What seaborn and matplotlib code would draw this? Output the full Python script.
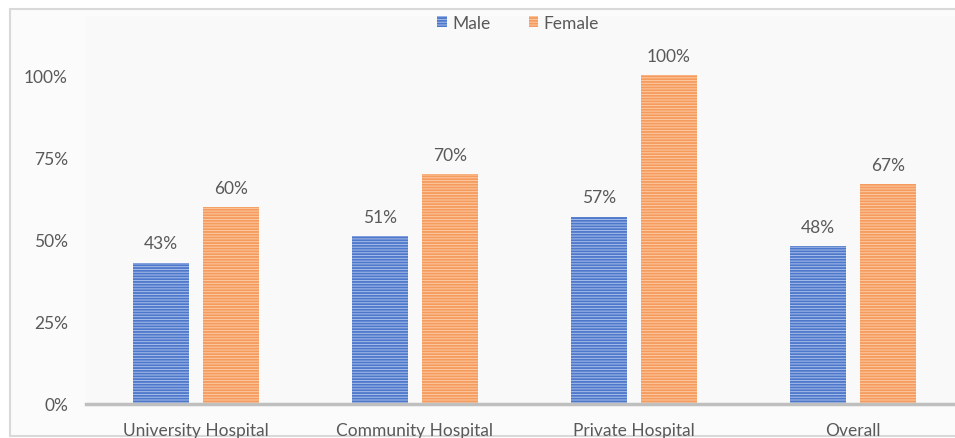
import matplotlib
matplotlib.use("Agg")
import matplotlib.pyplot as plt
from matplotlib.patches import Patch, Rectangle
import seaborn as sns
import pandas as pd

categories = ["University Hospital", "Community Hospital", "Private Hospital", "Overall"]
male = [0.43, 0.51, 0.57, 0.48]
female = [0.60, 0.70, 1.00, 0.67]
yticks = [0, 0.25, 0.50, 0.75, 1.00]
ytick_labels = ["0%", "25%", "50%", "75%", "100%"]

df = pd.DataFrame({
    "Hospital": categories * 2,
    "Sex": ["Male"] * len(categories) + ["Female"] * len(categories),
    "Value": male + female,
})

sns.set_theme(style="white")
plt.rcParams["font.family"] = ["Lato", "DejaVu Sans"]
plt.rcParams["hatch.linewidth"] = 1.3

text_color = "#595959"
fs = 12.5
styles = {
    "Male": {"face": "#aabfea", "hatch": "#4d77ca"},
    "Female": {"face": "#fdcba5", "hatch": "#f59b5d"},
}

fig = plt.figure(figsize=(9.55, 4.39), dpi=100, facecolor="white")
# chart frame
frame = Rectangle((10 / 955, 2 / 439), 1.2, 427 / 439, transform=fig.transFigure,
                  facecolor="#fbfbfb", edgecolor="#d9d9d9", linewidth=1.5, zorder=-10)
fig.add_artist(frame)

ax = fig.add_axes([86 / 955, 34 / 439, 869 / 955, 388 / 439])
ax.set_zorder(1)
ax.set_facecolor("#f9f9f9")

sns.barplot(data=df, x="Hospital", y="Value", hue="Sex", order=categories,
            hue_order=["Male", "Female"], width=0.64, gap=0.19, ax=ax,
            legend=False, errorbar=None)

for container, sex in zip(ax.containers, ["Male", "Female"]):
    st = styles[sex]
    for bar in container:
        bar.set_facecolor(st["face"])
        bar.set_edgecolor(st["hatch"])
        bar.set_hatch("------")
        bar.set_linewidth(0)
    ax.bar_label(container, labels=[f"{v * 100:.0f}%" for v in container.datavalues],
                 padding=8, fontsize=fs, color=text_color)

ax.set_ylim(0, 1.18)
ax.set_xlim(-0.502, 3.466)
ax.set_yticks(yticks)
ax.set_yticklabels(ytick_labels)
ax.set_xlabel("")
ax.set_ylabel("")
ax.tick_params(axis="both", length=0, labelsize=fs, colors=text_color)
ax.tick_params(axis="y", pad=13)
ax.tick_params(axis="x", pad=13)
for side in ["top", "right", "left"]:
    ax.spines[side].set_visible(False)
ax.spines["bottom"].set_color("#bfbfbf")
ax.spines["bottom"].set_linewidth(2.5)
ax.grid(False)

handles = [Patch(facecolor=styles[s]["face"], edgecolor=styles[s]["hatch"], hatch="------",
                 linewidth=0, label=s) for s in ["Male", "Female"]]
leg = fig.legend(handles=handles, loc="center", bbox_to_anchor=(518 / 955, 1 - 24 / 439),
                 ncol=2, frameon=False, fontsize=fs, handlelength=0.55, handleheight=0.6,
                 handletextpad=0.3, columnspacing=2.2, labelcolor=text_color)

fig.savefig("out.png", dpi=100, facecolor="white")
